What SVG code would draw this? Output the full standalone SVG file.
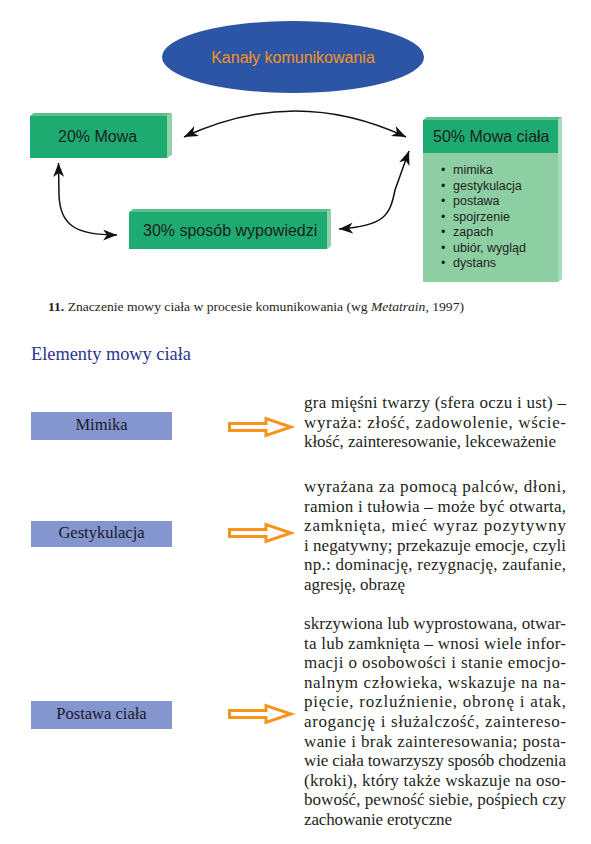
<svg xmlns="http://www.w3.org/2000/svg" width="591" height="844" viewBox="0 0 591 844">
<style>
.sans{font-family:"Liberation Sans","Open Sans",Arial,sans-serif;}
.serif{font-family:"Liberation Serif","Times New Roman",serif;}
.lbl{font-size:16px;fill:#1e1e1e;}
.item{font-size:12.5px;fill:#1e1e1e;}
.body{font-size:17px;fill:#231f20;}
.front{fill:#1dab72;}
.top{fill:#5dbf8d;}
.side{fill:#8fd1a9;}
.conn{fill:none;stroke:#111;stroke-width:1.5;}
.pbox{fill:#8595cd;}
.plbl{font-size:16.5px;fill:#1a1a2a;text-anchor:middle;}
.oarrow{fill:#fff;stroke:#f7941d;stroke-width:3;stroke-linejoin:miter;}
</style>
<defs>
<marker id="ah" markerUnits="userSpaceOnUse" markerWidth="15" markerHeight="11" refX="14" refY="5.5" orient="auto-start-reverse">
<path d="M0,0 L14,5.5 L0,11 L4,5.5 Z" fill="#111"/>
</marker>
<path id="oa" d="M1.5,-3.5 L38,-3.5 L38,-8.5 L63,0 L38,8.5 L38,3.5 L1.5,3.5 Z"/>
</defs>
<rect width="591" height="844" fill="#fff"/>

<g id="kanaly">
<ellipse cx="293" cy="57" rx="131" ry="36" fill="#2d55a5"/>
<text class="sans" x="293" y="63" font-size="16" fill="#f7941d" text-anchor="middle">Kanały komunikowania</text>
</g>

<g id="mowa20">
<polygon class="top" points="34,113 172,113 167,116 30,116"/>
<polygon class="side" points="167,116 172,113 172,155 167,158"/>
<rect class="front" x="30" y="116" width="137" height="42"/>
<text class="sans lbl" x="58" y="142">20% Mowa</text>
</g>

<g id="mowa50">
<polygon class="top" points="427,117 562,117 558,120 423,120"/>
<polygon points="558,120 562,117 562,279 558,282" fill="#a6dbb9"/>
<rect class="front" x="423" y="120" width="135" height="33"/>
<rect x="423" y="153" width="135" height="129" fill="#8dcfa2"/>
<text class="sans lbl" x="433" y="142">50% Mowa ciała</text>
<g class="sans item">
<text x="441" y="174">•</text><text x="453" y="174">mimika</text>
<text x="441" y="189.5">•</text><text x="453" y="189.5">gestykulacja</text>
<text x="441" y="205">•</text><text x="453" y="205">postawa</text>
<text x="441" y="220.5">•</text><text x="453" y="220.5">spojrzenie</text>
<text x="441" y="236">•</text><text x="453" y="236">zapach</text>
<text x="441" y="251.5">•</text><text x="453" y="251.5">ubiór, wygląd</text>
<text x="441" y="267">•</text><text x="453" y="267">dystans</text>
</g>
</g>

<g id="sposob30">
<polygon class="top" points="133,209 331,209 327,212 129,212"/>
<polygon class="side" points="327,212 331,209 331,246 327,249"/>
<rect class="front" x="129" y="212" width="198" height="37"/>
<text class="sans lbl" x="143" y="236">30% sposób wypowiedzi</text>
</g>

<g id="connectors">
<path class="conn" d="M184,137 Q295,85 406,137" marker-start="url(#ah)" marker-end="url(#ah)"/>
<path class="conn" d="M58.5,163 L59,195 C60,225 75,235 117,235" marker-start="url(#ah)" marker-end="url(#ah)"/>
<path class="conn" d="M339,229 C385,226 390,215 395,190 L409,151" marker-start="url(#ah)" marker-end="url(#ah)"/>
</g>

<g id="caption">
<text class="serif" x="48" y="311" font-size="13" fill="#231f20" textLength="416" lengthAdjust="spacingAndGlyphs"><tspan font-weight="bold">11.</tspan> Znaczenie mowy ciała w procesie komunikowania (wg <tspan font-style="italic">Metatrain</tspan>, 1997)</text>
</g>

<g id="heading">
<text class="serif" x="31" y="360" font-size="18" fill="#2b3590" textLength="160" lengthAdjust="spacingAndGlyphs">Elementy mowy ciała</text>
</g>

<g id="mimika">
<rect class="pbox" x="31" y="412" width="141" height="28"/>
<text class="serif plbl" x="101.5" y="430">Mimika</text>
<use href="#oa" class="oarrow" transform="translate(228,427)"/>
<g class="serif body">
<text x="304" y="408" textLength="262" lengthAdjust="spacing">gra mięśni twarzy (sfera oczu i ust) –</text>
<text x="304" y="427.5" textLength="262" lengthAdjust="spacing">wyraża: złość, zadowolenie, wście-</text>
<text x="304" y="447" textLength="252" lengthAdjust="spacing">kłość, zainteresowanie, lekceważenie</text>
</g>
</g>

<g id="gestykulacja">
<rect class="pbox" x="31" y="521" width="141" height="26"/>
<text class="serif plbl" x="101.5" y="538">Gestykulacja</text>
<use href="#oa" class="oarrow" transform="translate(228,533)"/>
<g class="serif body">
<text x="304" y="492" textLength="262" lengthAdjust="spacing">wyrażana za pomocą palców, dłoni,</text>
<text x="304" y="511.6" textLength="262" lengthAdjust="spacing">ramion i tułowia – może być otwarta,</text>
<text x="304" y="531.2" textLength="262" lengthAdjust="spacing">zamknięta, mieć wyraz pozytywny</text>
<text x="304" y="550.8" textLength="262" lengthAdjust="spacing">i negatywny; przekazuje emocje, czyli</text>
<text x="304" y="570.4" textLength="262" lengthAdjust="spacing">np.: dominację, rezygnację, zaufanie,</text>
<text x="304" y="590" textLength="101" lengthAdjust="spacing">agresję, obrazę</text>
</g>
</g>

<g id="postawa">
<rect class="pbox" x="31" y="701" width="141" height="28"/>
<text class="serif plbl" x="101.5" y="719">Postawa ciała</text>
<use href="#oa" class="oarrow" transform="translate(228,714)"/>
<g class="serif body">
<text x="304" y="629" textLength="262" lengthAdjust="spacing">skrzywiona lub wyprostowana, otwar-</text>
<text x="304" y="648.6" textLength="262" lengthAdjust="spacing">ta lub zamknięta – wnosi wiele infor-</text>
<text x="304" y="668.2" textLength="262" lengthAdjust="spacing">macji o osobowości i stanie emocjo-</text>
<text x="304" y="687.8" textLength="262" lengthAdjust="spacing">nalnym człowieka, wskazuje na na-</text>
<text x="304" y="707.4" textLength="262" lengthAdjust="spacing">pięcie, rozluźnienie, obronę i atak,</text>
<text x="304" y="727" textLength="262" lengthAdjust="spacing">arogancję i służalczość, zaintereso-</text>
<text x="304" y="746.6" textLength="262" lengthAdjust="spacing">wanie i brak zainteresowania; posta-</text>
<text x="304" y="766.2" textLength="262" lengthAdjust="spacing">wie ciała towarzyszy sposób chodzenia</text>
<text x="304" y="785.8" textLength="262" lengthAdjust="spacing">(kroki), który także wskazuje na oso-</text>
<text x="304" y="805.4" textLength="262" lengthAdjust="spacing">bowość, pewność siebie, pośpiech czy</text>
<text x="304" y="825" textLength="148" lengthAdjust="spacing">zachowanie erotyczne</text>
</g>
</g>
</svg>
